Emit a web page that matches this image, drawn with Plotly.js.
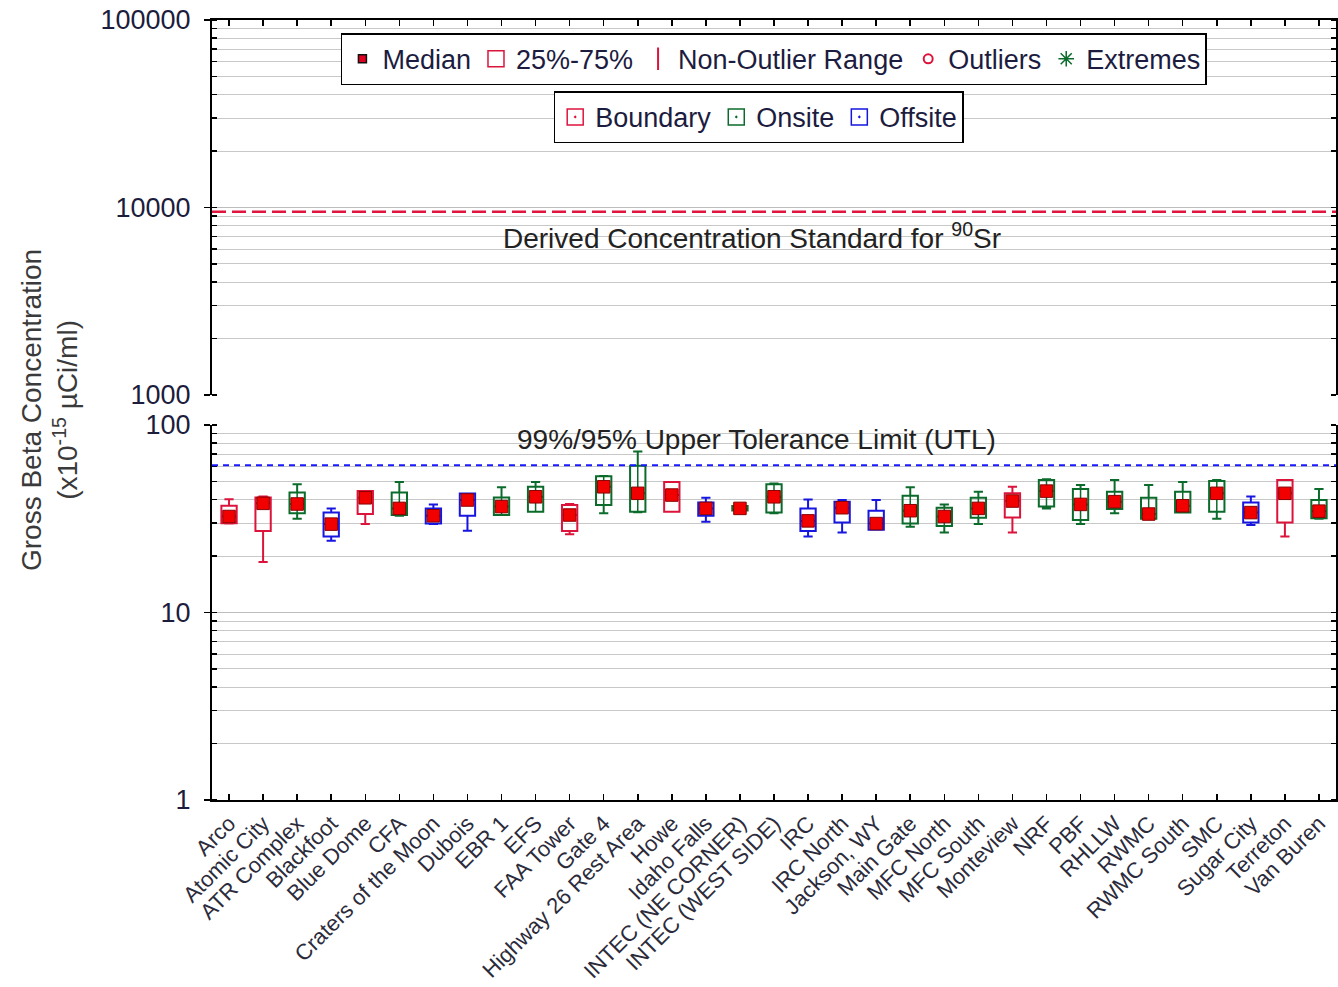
<!DOCTYPE html>
<html>
<head>
<meta charset="utf-8">
<script src="https://cdn.plot.ly/plotly-3.0.1.min.js"></script>
<style>
  html, body { margin: 0; padding: 0; background: #fff; }
  #chart { width: 1338px; height: 987px; }
</style>
</head>
<body>
<div id="chart"></div>
<script>
// Air monitoring locations, in plotting order
const sites = [
  'Arco', 'Atomic City', 'ATR Complex', 'Blackfoot', 'Blue Dome', 'CFA',
  'Craters of the Moon', 'Dubois', 'EBR 1', 'EFS', 'FAA Tower', 'Gate 4',
  'Highway 26 Rest Area', 'Howe', 'Idaho Falls', 'INTEC (NE CORNER)',
  'INTEC (WEST SIDE)', 'IRC', 'IRC North', 'Jackson, WY', 'Main Gate',
  'MFC North', 'MFC South', 'Monteview', 'NRF', 'PBF', 'RHLLW', 'RWMC',
  'RWMC South', 'SMC', 'Sugar City', 'Terreton', 'Van Buren'
];

// Location type for each site
const siteType = [
  'Boundary', 'Boundary', 'Onsite', 'Offsite', 'Boundary', 'Onsite',
  'Offsite', 'Offsite', 'Onsite', 'Onsite', 'Boundary', 'Onsite',
  'Onsite', 'Boundary', 'Offsite', 'Onsite',
  'Onsite', 'Offsite', 'Offsite', 'Offsite', 'Onsite',
  'Onsite', 'Onsite', 'Boundary', 'Onsite', 'Onsite', 'Onsite', 'Onsite',
  'Onsite', 'Onsite', 'Offsite', 'Boundary', 'Onsite'
];

// Gross beta box statistics (x10^-15 uCi/ml)
const lowerWhisker = [29.8, 18.6, 31.6, 24.1, 29.6, 32.8, 29.6, 27.3, 33.1, 34.5, 26.1, 33.8,
  34.2, 34.5, 30.5, 35.0, 33.8, 25.4, 26.7, 27.6, 28.7, 26.7, 29.6, 26.7, 35.9, 29.6, 33.8, 31.6,
  34.1, 31.6, 29.3, 25.4, 31.6];
const q1 = [29.9, 27.2, 33.8, 25.4, 33.5, 33.1, 29.8, 32.8, 33.1, 34.5, 27.2, 37.4,
  34.5, 34.5, 32.8, 35.0, 34.1, 27.2, 30.2, 27.6, 29.8, 28.9, 32.0, 32.1, 36.7, 31.1, 35.6, 31.6,
  34.1, 34.5, 30.2, 30.2, 31.8];
const median = [32.5, 38.2, 37.9, 29.6, 40.9, 35.9, 32.8, 39.8, 36.7, 41.4, 33.1, 46.8,
  43.2, 42.3, 35.9, 35.9, 41.4, 30.8, 36.2, 29.8, 34.9, 32.5, 35.9, 39.3, 44.4, 37.7, 39.0, 33.5,
  37.1, 43.2, 34.1, 43.2, 34.7];
const q3 = [37.1, 41.1, 43.6, 34.1, 44.4, 43.6, 35.9, 43.1, 41.1, 46.8, 37.4, 53.3,
  60.7, 49.6, 38.6, 37.0, 48.3, 35.9, 39.0, 34.9, 41.9, 36.2, 40.9, 43.2, 50.9, 45.6, 44.1, 40.9,
  44.1, 50.3, 38.6, 50.9, 39.8];
const upperWhisker = [40.2, 41.6, 48.3, 35.9, 44.4, 49.6, 37.7, 43.1, 46.5, 49.6, 37.9, 53.5,
  72.1, 49.6, 40.9, 37.0, 48.8, 40.0, 39.8, 39.8, 46.5, 37.7, 44.1, 46.8, 51.3, 47.9, 50.9, 47.9,
  49.6, 50.9, 41.6, 50.9, 45.6];

// Reference levels
const dcsSr90 = 9500;   // Derived Concentration Standard for Sr-90
const utl = 61;         // 99%/95% upper tolerance limit

const typeColors = { Boundary: '#dc143c', Onsite: '#0b6b2b', Offsite: '#1616e0' };
const FONT = 'Liberation Sans, Arial, sans-serif';

function pick(arr, type) {
  return arr.filter((_, i) => siteType[i] === type);
}

const traces = [];

// One box trace per location type, built from the precomputed statistics
['Boundary', 'Onsite', 'Offsite'].forEach(t => {
  traces.push({
    type: 'box', name: t,
    x: pick(sites, t),
    q1: pick(q1, t), median: pick(median, t), q3: pick(q3, t),
    lowerfence: pick(lowerWhisker, t), upperfence: pick(upperWhisker, t),
    xaxis: 'x', yaxis: 'y',
    width: 0.45, whiskerwidth: 0.6,
    line: { color: typeColors[t], width: 2 },
    fillcolor: 'rgba(255,255,255,0)',
    boxpoints: false, showlegend: false, hoverinfo: 'skip'
  });
});

// Onsite boxes carry a vertical centre stroke
const onX = [], onY = [];
sites.forEach((s, i) => {
  if (siteType[i] === 'Onsite') { onX.push(s, s, null); onY.push(q1[i], q3[i], null); }
});
traces.push({
  type: 'scatter', mode: 'lines', x: onX, y: onY, xaxis: 'x', yaxis: 'y',
  line: { color: typeColors.Onsite, width: 1.5 }, showlegend: false, hoverinfo: 'skip'
});

// Median markers
traces.push({
  type: 'scatter', mode: 'markers', x: sites, y: median, xaxis: 'x', yaxis: 'y',
  marker: { symbol: 'square', size: 12.5, color: '#f20000', line: { color: '#8a0000', width: 1 } },
  showlegend: false, hoverinfo: 'skip'
});

// Legend entries (statistics key)
function key(name, legend, marker) {
  return { type: 'scatter', mode: 'markers', x: [null], y: [null], xaxis: 'x', yaxis: 'y',
           name: name, legend: legend, marker: marker, hoverinfo: 'skip' };
}
traces.push(key('Median', 'legend', { symbol: 'square', size: 8, color: '#e00020', line: { color: '#111', width: 1.5 } }));
traces.push(key('25%-75%', 'legend', { symbol: 'square-open', size: 16, color: '#dc143c', line: { width: 1.5 } }));
traces.push(key('Non-Outlier Range', 'legend', { symbol: 'line-ns-open', size: 18, color: '#dc143c', line: { width: 2 } }));
traces.push(key('Outliers', 'legend', { symbol: 'circle-open', size: 9, color: '#dc143c', line: { width: 2 } }));
traces.push(key('Extremes', 'legend', { symbol: 'asterisk-open', size: 13, color: '#0b6b2b', line: { width: 1.5 } }));
// Legend entries (location type key)
traces.push(key('Boundary', 'legend2', { symbol: 'square-open-dot', size: 16, color: typeColors.Boundary, line: { width: 1.5 } }));
traces.push(key('Onsite', 'legend2', { symbol: 'square-open-dot', size: 16, color: typeColors.Onsite, line: { width: 1.5 } }));
traces.push(key('Offsite', 'legend2', { symbol: 'square-open-dot', size: 16, color: typeColors.Offsite, line: { width: 1.5 } }));

const yCommon = {
  type: 'log', dtick: 1, tick0: 0, tickformat: 'd',
  showline: true, linecolor: '#000', linewidth: 2, mirror: 'allticks',
  ticks: 'outside', ticklen: 6, tickcolor: '#000', tickwidth: 1.5,
  ticklabelstandoff: 8,
  tickfont: { family: FONT, size: 27, color: '#1c1c3c' },
  showgrid: true, gridcolor: '#bdbdbd', gridwidth: 1,
  minor: { ticks: 'inside', ticklen: 5, tickcolor: '#000', showgrid: true, gridcolor: '#c8c8c8', gridwidth: 1 },
  zeroline: false, fixedrange: true
};

const layout = {
  width: 1338, height: 987,
  margin: { l: 212, r: 2, t: 20, b: 187, autoexpand: false },
  paper_bgcolor: '#fff', plot_bgcolor: '#fff',
  boxmode: 'overlay',
  font: { family: FONT, color: '#222' },
  showlegend: true,
  xaxis: {
    domain: [0, 1], anchor: 'y', type: 'category',
    categoryorder: 'array', categoryarray: sites, range: [-0.5, sites.length - 0.5],
    showline: true, linecolor: '#000', linewidth: 2,
    ticks: 'inside', ticklen: 6, tickcolor: '#000', tickwidth: 1.5,
    tickangle: -45, tickfont: { family: FONT, size: 22, color: '#2b2b3b' },
    showgrid: false, zeroline: false, automargin: false, fixedrange: true
  },
  xaxis2: {
    domain: [0, 1], anchor: 'y2', matches: 'x', side: 'top', type: 'category',
    categoryorder: 'array', categoryarray: sites,
    showline: true, linecolor: '#000', linewidth: 2,
    ticks: 'inside', ticklen: 6, tickcolor: '#000', tickwidth: 1.5,
    showticklabels: false, showgrid: false, zeroline: false, fixedrange: true
  },
  yaxis: Object.assign({}, yCommon, { domain: [0, 0.4808], range: [0, 2], anchor: 'x' }),
  yaxis2: Object.assign({}, yCommon, { domain: [0.5192, 1], range: [3, 5], anchor: 'x2' }),
  legend: {
    orientation: 'h', x: 0.1147, y: 0.983, xanchor: 'left', yanchor: 'top',
    bgcolor: '#fff', bordercolor: '#000', borderwidth: 1.5,
    font: { family: FONT, size: 27, color: '#1c1c40' }, itemwidth: 30
  },
  legend2: {
    orientation: 'h', x: 0.304, y: 0.9085, xanchor: 'left', yanchor: 'top',
    bgcolor: '#fff', bordercolor: '#000', borderwidth: 1.5,
    font: { family: FONT, size: 27, color: '#1c1c40' }, itemwidth: 30
  },
  shapes: [
    { type: 'line', xref: 'paper', x0: 0, x1: 1, yref: 'y2', y0: dcsSr90, y1: dcsSr90,
      line: { color: '#e0143c', width: 2.5, dash: '14px,6px' } },
    { type: 'line', xref: 'paper', x0: 0, x1: 1, yref: 'y', y0: utl, y1: utl,
      line: { color: '#1a1aff', width: 2, dash: '6px,5px' } }
  ],
  annotations: [
    { xref: 'paper', yref: 'paper', x: -0.145, y: 0.5, xanchor: 'center', yanchor: 'middle',
      textangle: -90, showarrow: false,
      text: 'Gross Beta Concentration<br>(x10<sup>-15</sup> µCi/ml)',
      font: { family: FONT, size: 28, color: '#3a3a3a' } },
    { xref: 'paper', yref: 'y', x: 0.4844, y: Math.log10(utl), yshift: 26,
      xanchor: 'center', yanchor: 'middle', showarrow: false,
      text: '99%/95% Upper Tolerance Limit (UTL)',
      font: { family: FONT, size: 28, color: '#222' } },
    { xref: 'paper', yref: 'y2', x: 0.48, y: Math.log10(dcsSr90), yshift: -24,
      xanchor: 'center', yanchor: 'middle', showarrow: false,
      text: 'Derived Concentration Standard for <sup>90</sup>Sr',
      font: { family: FONT, size: 28, color: '#222' } }
  ]
};

Plotly.newPlot('chart', traces, layout, { staticPlot: true, displayModeBar: false });
</script>
</body>
</html>
